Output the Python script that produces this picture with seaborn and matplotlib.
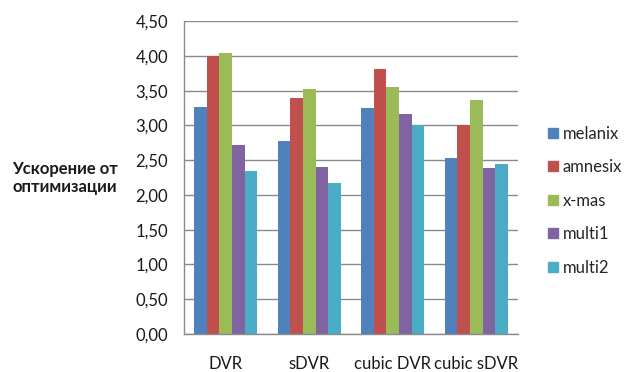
import matplotlib
matplotlib.use("Agg")
import matplotlib.pyplot as plt
from matplotlib.lines import Line2D
import seaborn as sns
import pandas as pd
import numpy as np

categories = ["DVR", "sDVR", "cubic DVR", "cubic sDVR"]
series = ["melanix", "amnesix", "x-mas", "multi1", "multi2"]
melanix = [3.26, 2.77, 3.25, 2.53]
amnesix = [4.00, 3.40, 3.82, 3.00]
x_mas = [4.04, 3.53, 3.55, 3.36]
multi1 = [2.72, 2.40, 3.16, 2.39]
multi2 = [2.35, 2.17, 3.00, 2.44]
y_ticks = [0, 0.5, 1.0, 1.5, 2.0, 2.5, 3.0, 3.5, 4.0, 4.5]
y_label = "Ускорение от\nоптимизации"

colors = ["#4F81BD", "#C0504D", "#9BBB59", "#8064A2", "#4BACC6"]

values = [melanix, amnesix, x_mas, multi1, multi2]
rows = []
for name, vals in zip(series, values):
    for cat, v in zip(categories, vals):
        rows.append({"category": cat, "series": name, "value": v})
df = pd.DataFrame(rows)

sns.set_style("white")
plt.rcParams["font.family"] = ["Lato", "DejaVu Sans"]

fig = plt.figure(figsize=(6.24, 3.72), dpi=100)
ax = fig.add_axes([184 / 624, 1 - 333.8 / 372, (518 - 184) / 624, (333.8 - 21.3) / 372])

sns.barplot(data=df, x="category", y="value", hue="series", order=categories,
            hue_order=series, palette=colors, width=0.76, saturation=1,
            linewidth=0, ax=ax, legend=False)

ax.set_ylim(0, 4.5)
ax.set_xlim(-0.5, len(categories) - 0.5)
ax.set_yticks(y_ticks)
ax.set_yticklabels([f"{t:.2f}".replace(".", ",") for t in y_ticks],
                   fontsize=12, color="#1a1a1a")
ax.yaxis.grid(True, color="#8a8a8a", linewidth=1.0)
ax.set_axisbelow(True)

# category boundaries carry the tick marks, labels sit at the centres
ax.set_xticks(np.arange(len(categories) + 1) - 0.5)
ax.set_xticklabels([])
ax.set_xticks(np.arange(len(categories)), minor=True)
ax.set_xticklabels(categories, minor=True, fontsize=12, color="#1a1a1a")
ax.tick_params(axis="x", which="major", length=6, width=1, color="#8a8a8a", direction="out")
ax.tick_params(axis="x", which="minor", length=0, pad=16)
ax.tick_params(axis="y", length=6, width=1, color="#8a8a8a", direction="inout", pad=8.5)
ax.set_xlabel("")
ax.set_ylabel("")

for side in ["top", "right"]:
    ax.spines[side].set_visible(False)
for side in ["left", "bottom"]:
    ax.spines[side].set_color("#8a8a8a")
    ax.spines[side].set_linewidth(1.0)

fig.text(65 / 624, 1 - 178 / 372, y_label, fontsize=12, fontweight="bold",
         ha="center", va="center", color="#1a1a1a", linespacing=1.15)

handles = [Line2D([0], [0], marker="s", linestyle="none", markersize=7.5,
                  markerfacecolor=c, markeredgecolor=c) for c in colors]
fig.legend(handles, series, loc="upper left", bbox_to_anchor=(541 / 624, 1 - 119 / 372),
           frameon=False, fontsize=12, handlelength=0.6, handletextpad=0.3,
           labelspacing=1.05, borderaxespad=0)

fig.savefig("out.png", dpi=100)
